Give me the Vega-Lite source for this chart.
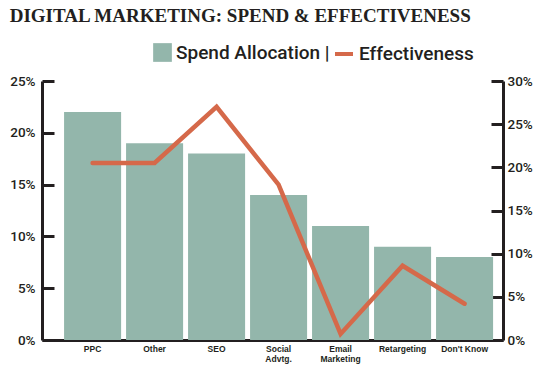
{
  "$schema": "https://vega.github.io/schema/vega-lite/v6.json",
  "width": 461,
  "height": 259,
  "autosize": {"type": "none"},
  "padding": {"left": 42, "top": 81, "right": 39, "bottom": 25},
  "background": "white",
  "title": {
    "text": "DIGITAL MARKETING: SPEND & EFFECTIVENESS",
    "font": "Liberation Serif",
    "fontWeight": "bold",
    "fontSize": 19,
    "color": "#231f20",
    "anchor": "start",
    "frame": "bounds",
    "offset": 10,
    "dy": -7
  },
  "data": {
    "values": [
      {"channel": "PPC", "spend": 22, "effectiveness": 20.5},
      {"channel": "Other", "spend": 19, "effectiveness": 20.5},
      {"channel": "SEO", "spend": 18, "effectiveness": 27},
      {"channel": "Social Advtg.", "spend": 14, "effectiveness": 18},
      {"channel": "Email Marketing", "spend": 11, "effectiveness": 0.7},
      {"channel": "Retargeting", "spend": 9, "effectiveness": 8.6},
      {"channel": "Don't Know", "spend": 8, "effectiveness": 4.2}
    ]
  },
  "encoding": {
    "x": {
      "field": "channel",
      "type": "nominal",
      "sort": null,
      "title": null,
      "scale": {"paddingInner": 0.08, "paddingOuter": 0.258, "align": 0.69},
      "axis": {
        "orient": "bottom",
        "ticks": false,
        "labelAngle": 0,
        "labelFont": "Liberation Sans",
        "labelFontWeight": "bold",
        "labelFontSize": 8.5,
        "labelColor": "#231f20",
        "labelPadding": 4,
        "labelLineHeight": 10,
        "labelExpr": "datum.label == 'Social Advtg.' ? ['Social', 'Advtg.'] : datum.label == 'Email Marketing' ? ['Email', 'Marketing'] : datum.label"
      }
    }
  },
  "layer": [
    {
      "mark": {"type": "bar"},
      "encoding": {
        "y": {
          "field": "spend",
          "type": "quantitative",
          "title": null,
          "scale": {"domain": [0, 25], "nice": false},
          "axis": {
            "orient": "left",
            "values": [0, 5, 10, 15, 20, 25],
            "labelExpr": "datum.value + '%'",
            "tickSize": -12,
            "labelPadding": 19,
            "grid": false
          }
        },
        "fill": {
          "datum": "Spend Allocation",
          "type": "nominal",
          "scale": {"range": ["#93b6ab"]},
          "legend": {
            "orient": "none",
            "legendX": 111,
            "legendY": -38,
            "title": null,
            "padding": 0,
            "symbolType": "square",
            "symbolSize": 350,
            "symbolStrokeWidth": 0,
            "labelFont": "Roboto",
            "labelFontWeight": 500,
            "labelFontSize": 19,
            "labelColor": "#231f20",
            "labelOffset": 4,
            "labelLimit": 400,
            "labelExpr": "'Spend Allocation |'"
          }
        }
      }
    },
    {
      "mark": {"type": "line", "strokeWidth": 4.5, "strokeCap": "round", "strokeJoin": "miter"},
      "encoding": {
        "y": {
          "field": "effectiveness",
          "type": "quantitative",
          "title": null,
          "scale": {"domain": [0, 30], "nice": false},
          "axis": {
            "orient": "right",
            "values": [0, 5, 10, 15, 20, 25, 30],
            "labelExpr": "datum.value + '%'",
            "tickSize": -12,
            "labelPadding": 16,
            "grid": false
          }
        },
        "stroke": {
          "datum": "Effectiveness",
          "type": "nominal",
          "scale": {"range": ["#d5694a"]},
          "legend": {
            "orient": "none",
            "legendX": 291,
            "legendY": -38,
            "title": null,
            "padding": 0,
            "symbolType": "stroke",
            "symbolSize": 324,
            "symbolStrokeWidth": 4,
            "labelFont": "Roboto",
            "labelFontWeight": 500,
            "labelFontSize": 19,
            "labelColor": "#231f20",
            "labelOffset": 4,
            "labelLimit": 400
          }
        }
      }
    }
  ],
  "resolve": {"scale": {"y": "independent", "fill": "independent", "stroke": "independent"}},
  "config": {
    "view": {"stroke": null},
    "axis": {
      "domainColor": "#231f20",
      "domainWidth": 3,
      "tickColor": "#231f20",
      "tickWidth": 3,
      "labelFont": "Roboto",
      "labelFontWeight": 500,
      "labelFontSize": 13.5,
      "labelColor": "#231f20"
    }
  }
}
